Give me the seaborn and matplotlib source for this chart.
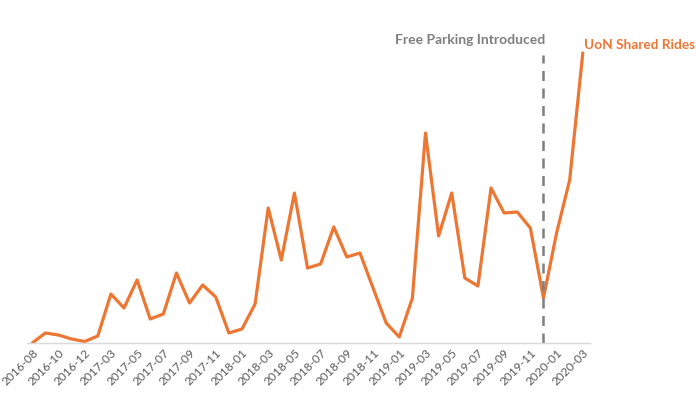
#!/usr/bin/env python3
"""Monthly UoN shared rides, with the free parking introduction marked."""

import matplotlib

matplotlib.use("Agg")
import matplotlib.pyplot as plt
import pandas as pd
import seaborn as sns


MONTHS = [
    "2016-08", "2016-09", "2016-10", "2016-11", "2016-12",
    "2017-02", "2017-03", "2017-04", "2017-05", "2017-06", "2017-07",
    "2017-08", "2017-09", "2017-10", "2017-11", "2017-12",
    "2018-01", "2018-02", "2018-03", "2018-04", "2018-05", "2018-06",
    "2018-07", "2018-08", "2018-09", "2018-10", "2018-11", "2018-12",
    "2019-01", "2019-02", "2019-03", "2019-04", "2019-05", "2019-06",
    "2019-07", "2019-08", "2019-09", "2019-10", "2019-11", "2019-12",
    "2020-01", "2020-02", "2020-03",
]

RIDES = [
    0, 10, 8, 4, 1.5,
    7, 49, 35, 63, 24, 29,
    70, 40, 58, 46, 10,
    14, 39, 135, 83, 150, 75,
    79, 116, 86, 90, 55, 20,
    6, 45, 210, 107, 150, 65,
    57, 155, 130, 131, 115, 45,
    110, 163, 290,
]

EVENT_MONTH = "2019-12"
EVENT_LABEL = "Free Parking Introduced"
SERIES_LABEL = "UoN Shared Rides"

ORANGE = "#EE7633"
GREY = "#7F7F7F"
TEXT_GREY = "#595959"


def main() -> None:
    df = pd.DataFrame({"month": MONTHS, "rides": RIDES})
    df["pos"] = range(len(df))

    sns.set_theme(style="white")
    plt.rcParams["font.family"] = ["Lato", "DejaVu Sans"]

    fig = plt.figure(figsize=(6.96, 3.95), dpi=100)
    ax = fig.add_axes([27 / 696, 1 - 343 / 395, (590 - 27) / 696, 300 / 395])

    sns.lineplot(data=df, x="pos", y="rides", color=ORANGE, linewidth=2.3, ax=ax)

    event_pos = MONTHS.index(EVENT_MONTH)
    ax.vlines(event_pos, 0, 288, colors=GREY, linestyles=(0, (4, 3)), linewidth=1.8)
    ax.text(event_pos + 0.1, 303, EVENT_LABEL, ha="right", va="center",
            fontsize=10, fontweight="bold", color=GREY)
    ax.text(len(MONTHS) - 1 + 0.1, 298, SERIES_LABEL, ha="left", va="center",
            fontsize=9.8, fontweight="bold", color=ORANGE, clip_on=False)

    ax.set_xlim(-0.4, len(MONTHS) - 1 + 0.55)
    ax.set_ylim(0, 300)
    ax.set_xticks(df["pos"][::2])
    ax.set_xticklabels(df["month"][::2], rotation=45, ha="right",
                       rotation_mode="anchor", fontsize=8.6, color=TEXT_GREY)
    ax.set_yticks([])
    ax.set_xlabel("")
    ax.set_ylabel("")
    ax.tick_params(axis="x", length=0, pad=3)
    for side in ("top", "right", "left"):
        ax.spines[side].set_visible(False)
    ax.spines["bottom"].set_color("#D9D9D9")
    ax.spines["bottom"].set_linewidth(1)

    fig.savefig("out.png", dpi=100)


if __name__ == "__main__":
    main()
